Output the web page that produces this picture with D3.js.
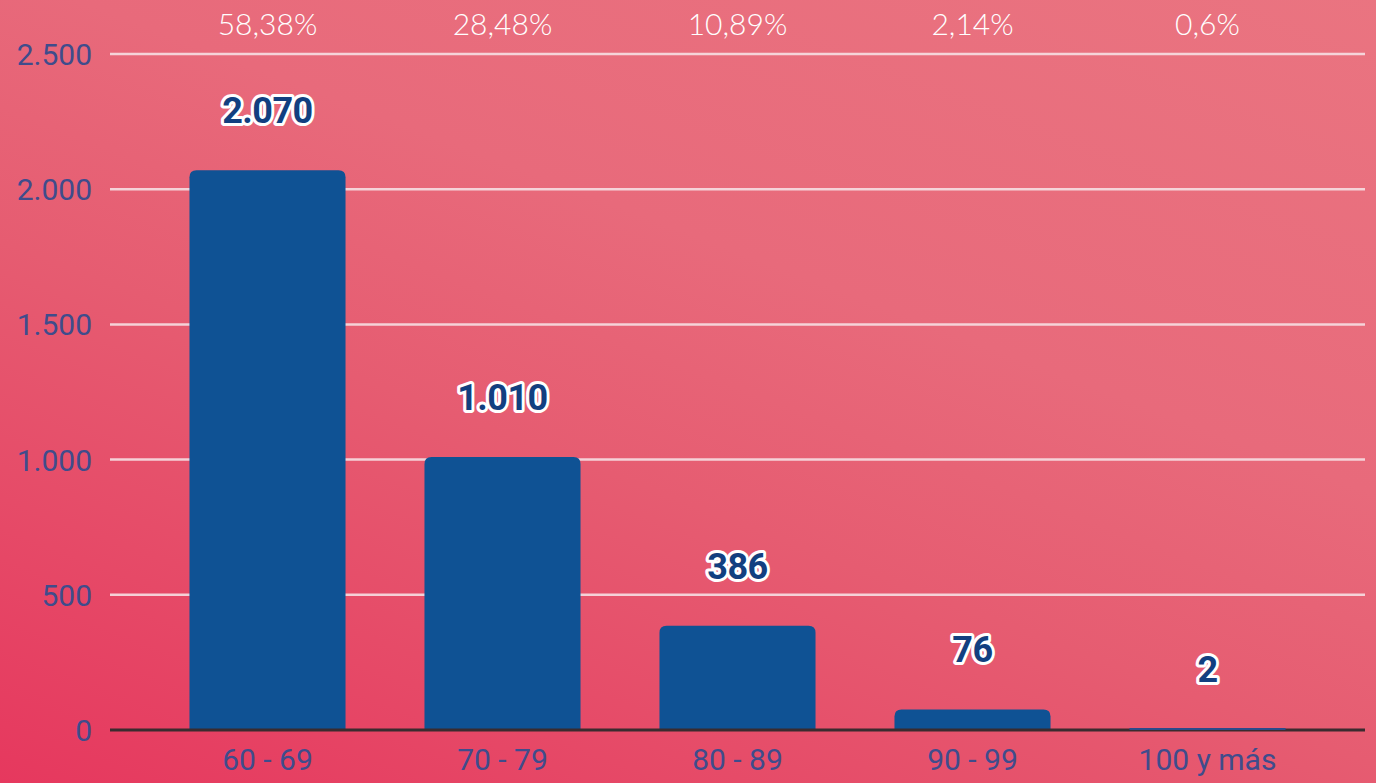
<!DOCTYPE html>
<html>
<head>
<meta charset="utf-8">
<script src="https://cdn.jsdelivr.net/npm/d3@7"></script>
<style>
  html, body { margin: 0; padding: 0; overflow: hidden; }
  #chart { width: 1376px; height: 783px; }
</style>
</head>
<body>
<div id="chart"></div>
<script>
var categories = ['60 - 69', '70 - 79', '80 - 89', '90 - 99', '100 y más'];
var values = [2070, 1010, 386, 76, 2];
var valueLabels = ['2.070', '1.010', '386', '76', '2'];
var percentLabels = ['58,38%', '28,48%', '10,89%', '2,14%', '0,6%'];
var yTicks = [0, 500, 1000, 1500, 2000, 2500];
var yTickLabels = ['0', '500', '1.000', '1.500', '2.000', '2.500'];

var W = 1376, H = 783;
var barColor = '#0f5294';
var labelColor = '#3f4c8c';

var svg = d3.select('#chart').append('svg')
    .attr('width', W)
    .attr('height', H);

// background gradient, mostly vertical, darker at bottom left
var defs = svg.append('defs');
var grad = defs.append('linearGradient')
    .attr('id', 'bg')
    .attr('gradientUnits', 'userSpaceOnUse')
    .attr('x1', 0).attr('y1', H)
    .attr('x2', 450).attr('y2', -400);
grad.append('stop').attr('offset', '0%').attr('stop-color', '#e6385e');
grad.append('stop').attr('offset', '40%').attr('stop-color', '#e65c71');
grad.append('stop').attr('offset', '60%').attr('stop-color', '#e86a7b');
grad.append('stop').attr('offset', '100%').attr('stop-color', '#ea7581');

svg.append('rect')
    .attr('width', W)
    .attr('height', H)
    .attr('fill', 'url(#bg)');

var x = d3.scaleBand()
    .domain(categories)
    .range([150, 1325])
    .paddingInner(0.336)
    .paddingOuter(0.168);

var y = d3.scaleLinear()
    .domain([0, 2500])
    .range([730, 54]);

// grid lines
svg.append('g')
    .selectAll('line')
    .data(yTicks.slice(1))
    .enter().append('line')
    .attr('x1', 110)
    .attr('x2', 1365)
    .attr('y1', function (d) { return y(d); })
    .attr('y2', function (d) { return y(d); })
    .attr('stroke', '#f6dfe3')
    .attr('stroke-opacity', 0.9)
    .attr('stroke-width', 2.5);

// y axis labels
var yAxis = d3.axisLeft(y)
    .tickValues(yTicks)
    .tickSize(0)
    .tickPadding(0)
    .tickFormat(function (d, i) { return yTickLabels[i]; });

var yg = svg.append('g')
    .attr('transform', 'translate(92,0)')
    .call(yAxis);
yg.select('.domain').remove();
yg.selectAll('text')
    .attr('fill', labelColor)
    .attr('font-family', 'Roboto, sans-serif')
    .attr('font-size', 30)
    .attr('dy', '0.35em');

// bars with rounded tops
function barPath(d, i) {
    var x0 = x(categories[i]), w = x.bandwidth();
    var y0 = y(d), y1 = y(0);
    var r = Math.min(7, (y1 - y0) / 2);
    if (y1 - y0 < 0.5) { return ''; }
    return 'M' + x0 + ',' + y1 +
        'V' + (y0 + r) +
        'Q' + x0 + ',' + y0 + ' ' + (x0 + r) + ',' + y0 +
        'H' + (x0 + w - r) +
        'Q' + (x0 + w) + ',' + y0 + ' ' + (x0 + w) + ',' + (y0 + r) +
        'V' + y1 + 'Z';
}

svg.append('g')
    .selectAll('path')
    .data(values)
    .enter().append('path')
    .attr('d', barPath)
    .attr('fill', barColor);

// x axis labels
var xAxis = d3.axisBottom(x)
    .tickSize(0)
    .tickPadding(19);

var xg = svg.append('g')
    .attr('transform', 'translate(0,' + y(0) + ')')
    .call(xAxis);
xg.select('.domain').remove();
xg.selectAll('text')
    .attr('fill', labelColor)
    .attr('font-family', 'Roboto, sans-serif')
    .attr('font-size', 30);

// baseline
svg.append('line')
    .attr('x1', 110)
    .attr('x2', 1365)
    .attr('y1', y(0))
    .attr('y2', y(0))
    .attr('stroke', '#3a2b2f')
    .attr('stroke-width', 3);

// tiny bars that sit on the baseline
svg.append('g')
    .selectAll('line')
    .data(values.filter(function (d) { return d < 10; }))
    .enter().append('line')
    .attr('x1', function (d) { return x(categories[values.indexOf(d)]); })
    .attr('x2', function (d) { return x(categories[values.indexOf(d)]) + x.bandwidth(); })
    .attr('y1', y(0) - 1)
    .attr('y2', y(0) - 1)
    .attr('stroke', '#2a4a8a')
    .attr('stroke-width', 2);

// value labels (outlined)
svg.append('g')
    .selectAll('text')
    .data(values)
    .enter().append('text')
    .attr('x', function (d, i) { return x(categories[i]) + x.bandwidth() / 2; })
    .attr('y', function (d) { return y(d) - 47; })
    .attr('text-anchor', 'middle')
    .attr('font-family', 'Roboto, sans-serif')
    .attr('font-weight', 'bold')
    .attr('font-size', 36)
    .attr('letter-spacing', -0.5)
    .attr('fill', '#123f80')
    .attr('stroke', '#ffffff')
    .attr('stroke-width', 6)
    .attr('stroke-linejoin', 'round')
    .attr('paint-order', 'stroke')
    .text(function (d, i) { return valueLabels[i]; });

// percentage labels
svg.append('g')
    .selectAll('text')
    .data(percentLabels)
    .enter().append('text')
    .attr('x', function (d, i) { return x(categories[i]) + x.bandwidth() / 2; })
    .attr('y', 35)
    .attr('text-anchor', 'middle')
    .attr('font-family', 'Lato, sans-serif')
    .attr('font-weight', 300)
    .attr('font-size', 30)
    .attr('fill', '#ffffff')
    .text(function (d) { return d; });
</script>
</body>
</html>
